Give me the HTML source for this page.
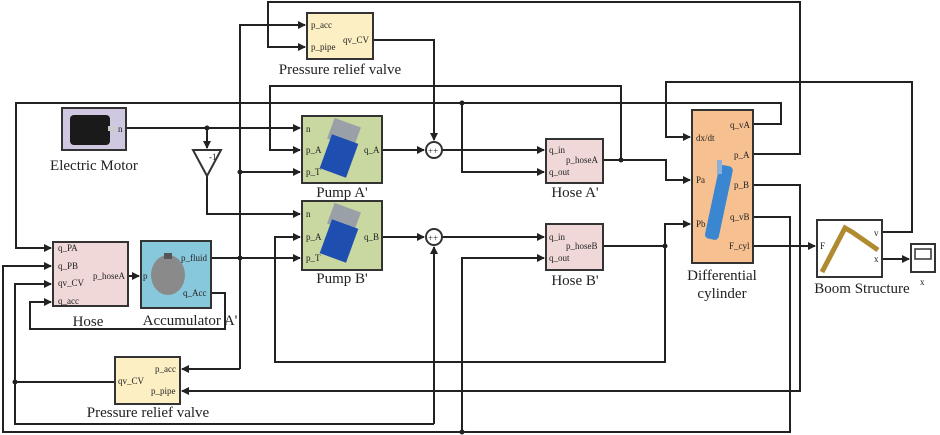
<!DOCTYPE html>
<html><head><meta charset="utf-8"><style>
html,body{margin:0;padding:0;background:#fff;}
svg{display:block;}
.p{font-family:"Liberation Serif",serif;font-size:9px;fill:#222;}
.l{font-family:"Liberation Serif",serif;font-size:15px;fill:#222;}
.w{fill:none;stroke:#222;stroke-width:2;}
.b{stroke:#333;stroke-width:2;}
</style></head><body>
<svg width="940" height="435" viewBox="0 0 940 435" xmlns="http://www.w3.org/2000/svg">
<defs>
<marker id="a" markerWidth="8" markerHeight="8" refX="7" refY="4" orient="auto" markerUnits="userSpaceOnUse"><path d="M0,0 L8,4 L0,8 z" fill="#222"/></marker>
</defs>
<g class="w">
<polyline points="753,154 800,154 800,2 268,2 268,47 305,47" marker-end="url(#a)"/>
<polyline points="240,369 240,25 305,25" marker-end="url(#a)"/>
<polyline points="240,369 182,369" marker-end="url(#a)"/>
<polyline points="240,172 300,172" marker-end="url(#a)"/>
<polyline points="373,40 434,40 434,140" marker-end="url(#a)"/>
<polyline points="621,160 621,86 270,86 270,150 300,150" marker-end="url(#a)"/>
<polyline points="753,124 781,124 781,103 16,103 16,248 51,248" marker-end="url(#a)"/>
<polyline points="462,103 462,172 544,172" marker-end="url(#a)"/>
<polyline points="126,128 300,128" marker-end="url(#a)"/>
<polyline points="207,128 207,148" marker-end="url(#a)"/>
<polyline points="207,175 207,214 300,214" marker-end="url(#a)"/>
<polyline points="382,150 424,150" marker-end="url(#a)"/>
<polyline points="442,150 544,150" marker-end="url(#a)"/>
<polyline points="603,160 666,160 666,180 690,180" marker-end="url(#a)"/>
<polyline points="879,232 912,232 912,82 666,82 666,137 690,137" marker-end="url(#a)"/>
<polyline points="753,185 800,185 800,391 182,391" marker-end="url(#a)"/>
<polyline points="753,217 790,217 790,432 3,432 3,266 51,266" marker-end="url(#a)"/>
<polyline points="462,432 462,258 544,258" marker-end="url(#a)"/>
<polyline points="115,382 15,382"/>
<polyline points="434,424 434,247" marker-end="url(#a)"/>
<polyline points="434,424 15,424 15,284 51,284" marker-end="url(#a)"/>
<polyline points="211,293 225,293 225,329 30,329 30,302 51,302" marker-end="url(#a)"/>
<polyline points="128,276 139,276" marker-end="url(#a)"/>
<polyline points="211,258 300,258" marker-end="url(#a)"/>
<polyline points="665,246 665,362 275,362 275,237 300,237" marker-end="url(#a)"/>
<polyline points="382,237 424,237" marker-end="url(#a)"/>
<polyline points="442,237 544,237" marker-end="url(#a)"/>
<polyline points="603,246 665,246"/>
<polyline points="665,246 665,224 690,224" marker-end="url(#a)"/>
<polyline points="753,246 815,246" marker-end="url(#a)"/>
<polyline points="882,259 909,259" marker-end="url(#a)"/>
</g>
<g fill="#222">
<circle cx="207" cy="128" r="2.5"/><circle cx="240" cy="172" r="2.5"/><circle cx="240" cy="258" r="2.5"/>
<circle cx="462" cy="103" r="2.5"/><circle cx="621" cy="160" r="2.5"/><circle cx="665" cy="246" r="2.5"/>
<circle cx="462" cy="432" r="2.5"/><circle cx="15" cy="382" r="2.5"/>
</g>
<polygon points="193,150 221,150 207,176" fill="#fff" class="b"/>
<text x="209" y="160" class="p" font-size="8">-1</text>
<circle cx="434" cy="150" r="8" fill="#fff" class="b"/><text x="428" y="154" class="p" font-size="8">++</text>
<circle cx="434" cy="237" r="8" fill="#fff" class="b"/><text x="428" y="241" class="p" font-size="8">++</text>
<rect x="307" y="13" width="66" height="46" fill="#fcefc4" class="b"/>
<text x="311" y="28" class="p">p_acc</text><text x="311" y="50" class="p">p_pipe</text><text x="343" y="43" class="p">qv_CV</text>
<text x="340" y="74" class="l" text-anchor="middle">Pressure relief valve</text>
<rect x="62" y="108" width="64" height="42" fill="#cfc8e0" class="b"/>
<rect x="70" y="115" width="40" height="30" rx="4" fill="#1a1a1a"/><rect x="108" y="126" width="8" height="5" fill="#ccc"/>
<text x="118" y="132" class="p">n</text>
<text x="94" y="170" class="l" text-anchor="middle">Electric Motor</text>
<rect x="302" y="116" width="80" height="67" fill="#c8d8a0" class="b"/>
<rect x="330" y="122" width="28" height="22" fill="#9aa0a8" transform="rotate(20 344 133)"/>
<rect x="325" y="138" width="28" height="36" fill="#1e4fb0" transform="rotate(20 339 156)"/>
<text x="306" y="132" class="p">n</text><text x="306" y="153" class="p">p_A</text><text x="306" y="175" class="p">p_T</text><text x="364" y="153" class="p">q_A</text>
<text x="342" y="197" class="l" text-anchor="middle">Pump A'</text>
<rect x="302" y="201" width="80" height="69" fill="#c8d8a0" class="b"/>
<rect x="330" y="207" width="28" height="22" fill="#9aa0a8" transform="rotate(20 344 218)"/>
<rect x="325" y="223" width="28" height="36" fill="#1e4fb0" transform="rotate(20 339 241)"/>
<text x="306" y="217" class="p">n</text><text x="306" y="240" class="p">p_A</text><text x="306" y="261" class="p">p_T</text><text x="364" y="240" class="p">q_B</text>
<text x="342" y="283" class="l" text-anchor="middle">Pump B'</text>
<rect x="546" y="139" width="57" height="44" fill="#f0d8d8" class="b"/>
<text x="549" y="153" class="p">q_in</text><text x="566" y="163" class="p">p_hoseA</text><text x="549" y="175" class="p">q_out</text>
<text x="575" y="197" class="l" text-anchor="middle">Hose A'</text>
<rect x="546" y="224" width="57" height="46" fill="#f0d8d8" class="b"/>
<text x="549" y="240" class="p">q_in</text><text x="566" y="249" class="p">p_hoseB</text><text x="549" y="261" class="p">q_out</text>
<text x="575" y="285" class="l" text-anchor="middle">Hose B'</text>
<rect x="692" y="110" width="61" height="153" fill="#f7c090" class="b"/>
<rect x="712" y="165" width="14" height="75" rx="4" fill="#3a86d0" transform="rotate(12 719 202)"/>
<rect x="717" y="160" width="5" height="14" fill="#8ab0d8"/>
<text x="696" y="141" class="p">dx/dt</text><text x="696" y="183" class="p">Pa</text><text x="696" y="227" class="p">Pb</text>
<text x="730" y="128" class="p">q_vA</text><text x="734" y="158" class="p">p_A</text><text x="734" y="188" class="p">p_B</text><text x="730" y="220" class="p">q_vB</text><text x="729" y="249" class="p">F_cyl</text>
<text x="722" y="280" class="l" text-anchor="middle">Differential</text>
<text x="722" y="298" class="l" text-anchor="middle">cylinder</text>
<rect x="817" y="220" width="65" height="57" fill="#fff" class="b"/>
<polyline points="822,272 845,228 852,232 878,250" fill="none" stroke="#b08a30" stroke-width="5"/>
<text x="820" y="249" class="p">F</text><text x="874" y="236" class="p">v</text><text x="874" y="262" class="p">x</text>
<text x="862" y="293" class="l" text-anchor="middle">Boom Structure</text>
<rect x="911" y="244" width="24" height="28" fill="#fff" class="b"/>
<rect x="915" y="249" width="16" height="10" fill="#fff" stroke="#333" stroke-width="1.5"/>
<text x="920" y="285" class="p" font-size="8">x</text>
<rect x="53" y="242" width="75" height="64" fill="#f0d8d8" class="b"/>
<text x="58" y="251" class="p">q_PA</text><text x="58" y="269" class="p">q_PB</text><text x="58" y="286" class="p">qv_CV</text><text x="58" y="304" class="p">q_acc</text><text x="93" y="279" class="p">p_hoseA</text>
<text x="88" y="326" class="l" text-anchor="middle">Hose</text>
<rect x="141" y="241" width="70" height="67" fill="#88c8dc" class="b"/>
<ellipse cx="168" cy="275" rx="17" ry="20" fill="#8a8a8a"/><rect x="164" y="253" width="8" height="6" fill="#555"/>
<text x="143" y="279" class="p">p</text><text x="181" y="261" class="p">p_fluid</text><text x="183" y="296" class="p">q_Acc</text>
<text x="190" y="325" class="l" text-anchor="middle">Accumulator A'</text>
<rect x="115" y="357" width="65" height="47" fill="#fcefc4" class="b"/>
<text x="155" y="372" class="p">p_acc</text><text x="151" y="394" class="p">p_pipe</text><text x="118" y="384" class="p">qv_CV</text>
<text x="148" y="417" class="l" text-anchor="middle">Pressure relief valve</text>
</svg>
</body></html>
